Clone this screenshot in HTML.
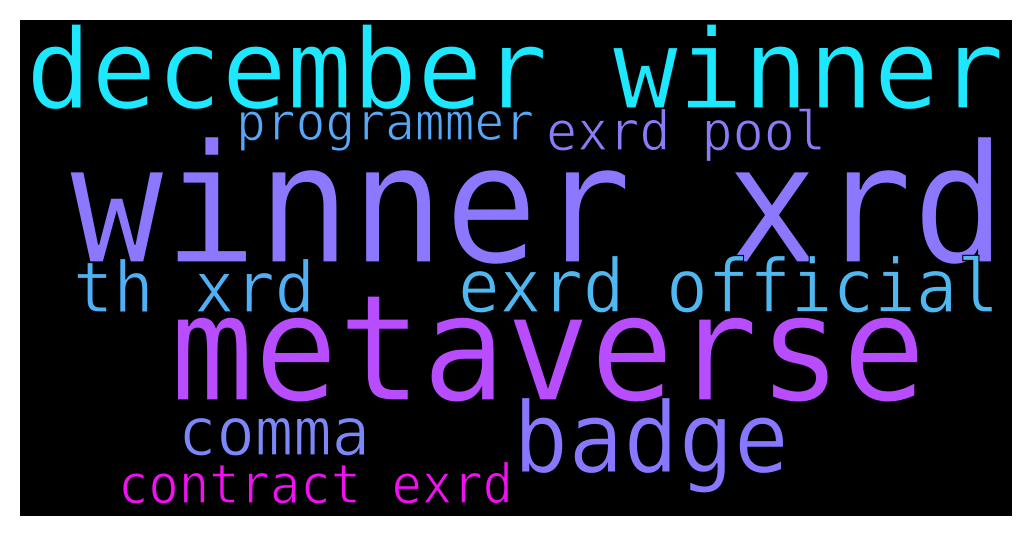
<!DOCTYPE html>
<html><head><meta charset="utf-8"><style>
html,body{margin:0;padding:0;background:#fff;}
svg{display:block}
text{font-family:"DejaVu Sans Mono","Liberation Mono",monospace;stroke:#000;stroke-width:1.2px;}
</style></head><body>
<svg width="1031" height="536">
<rect x="20" y="20" width="992" height="496" fill="#000"/>
<text x="26" y="108" font-size="111" fill="#1ee8ff" textLength="978" lengthAdjust="spacingAndGlyphs">december winner</text>
<text x="236" y="140" font-size="52" fill="#58a8f8" textLength="298" lengthAdjust="spacingAndGlyphs">programmer</text>
<text x="546" y="150" font-size="54" fill="#8a7cf8" textLength="280" lengthAdjust="spacingAndGlyphs">exrd pool</text>
<text x="70" y="262" font-size="165" fill="#8b78ff" textLength="936" lengthAdjust="spacingAndGlyphs">winner xrd</text>
<text x="73" y="312" font-size="70" fill="#50b0f5" textLength="242" lengthAdjust="spacingAndGlyphs">th xrd</text>
<text x="458" y="312" font-size="74" fill="#50b8f0" textLength="541" lengthAdjust="spacingAndGlyphs">exrd official</text>
<text x="170" y="400" font-size="148" fill="#b84cff" textLength="756" lengthAdjust="spacingAndGlyphs">metaverse</text>
<text x="513" y="472" font-size="98" fill="#8878ff" textLength="276" lengthAdjust="spacingAndGlyphs">badge</text>
<text x="178" y="455" font-size="67" fill="#7c88f8" textLength="192" lengthAdjust="spacingAndGlyphs">comma</text>
<text x="118" y="503" font-size="54" fill="#f010f0" textLength="395" lengthAdjust="spacingAndGlyphs">contract exrd</text>
</svg>
</body></html>
